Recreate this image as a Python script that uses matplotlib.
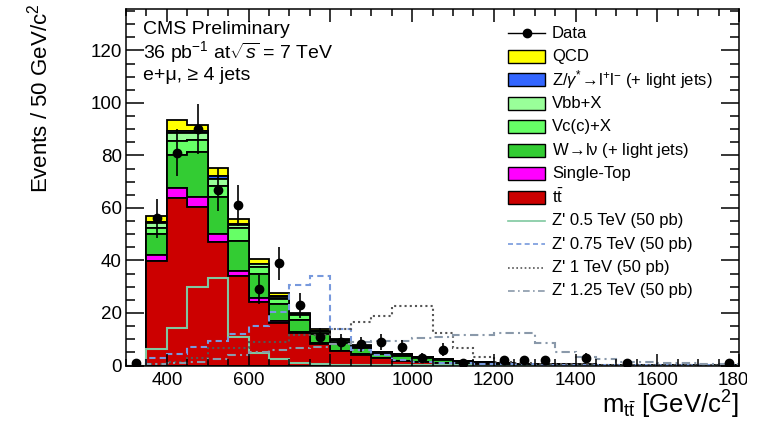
import numpy as np
import matplotlib
matplotlib.use("Agg")
import matplotlib.pyplot as plt
import matplotlib.patches as mpatches
from matplotlib.lines import Line2D
from matplotlib.ticker import MultipleLocator
from matplotlib.transforms import Bbox, TransformedBbox

plt.rcParams["font.family"] = ["Liberation Sans", "DejaVu Sans"]
plt.rcParams["mathtext.fontset"] = "custom"
plt.rcParams["mathtext.rm"] = "Liberation Sans"
plt.rcParams["mathtext.it"] = "Liberation Sans:italic"

# m_ttbar binning, 50 GeV bins
edges = np.arange(300, 1801, 50)
centers = 0.5 * (edges[:-1] + edges[1:])

# expected yields per bin (events / 50 GeV)
ttbar = [0, 39.8, 63.9, 60.5, 47.1, 34.2, 24.3, 16.3, 12.3, 8.2,
         5.5, 4.0, 2.7, 1.8, 1.4, 1.0, 0.7, 0.5, 0.35, 0.3,
         0.25, 0.2, 0.15, 0.12, 0.1, 0.08, 0.06, 0.05, 0.04, 0.03]
single_top = [0, 2.3, 3.8, 3.8, 3.0, 1.9, 1.3, 0.8, 0.3, 0.3,
              0.2, 0.2, 0.1, 0.1, 0.1, 0.1, 0.05, 0.05, 0.03, 0.02,
              0.02, 0.01, 0.01, 0.01, 0, 0, 0, 0, 0, 0]
w_light = [0, 7.9, 12.3, 16.9, 14.2, 11.4, 9.1, 6.2, 4.7, 3.4,
           3.0, 2.3, 1.6, 1.6, 1.3, 0.9, 0.55, 0.45, 0.35, 0.28,
           0.22, 0.2, 0.17, 0.15, 0.13, 0.11, 0.09, 0.08, 0.07, 0.06]
vc = [0, 2.5, 5.5, 4.7, 4.1, 4.7, 2.9, 2.0, 1.9, 0.7,
      0.6, 0.6, 0.4, 0.4, 0.3, 0.2, 0.2, 0.1, 0.07, 0.05,
      0.04, 0.03, 0.03, 0.02, 0.02, 0.02, 0.02, 0.01, 0.01, 0.01]
vbb = [0, 1.9, 2.9, 2.5, 2.7, 1.3, 0.9, 0.9, 0.4, 0.4,
       0.3, 0.3, 0.2, 0.2, 0.2, 0.2, 0.1, 0.1, 0.05, 0.04,
       0.03, 0.02, 0.02, 0.02, 0.02, 0.01, 0.01, 0.01, 0.01, 0.01]
zjets = [0, 0.2, 1.0, 0.8, 0.9, 0.3, 0.3, 0.2, 0.2, 0.1,
         0.1, 0.1, 0.1, 0.1, 0.05, 0, 0, 0, 0, 0,
         0, 0, 0, 0, 0, 0, 0, 0, 0, 0]
qcd = [0, 2.3, 4.0, 2.4, 3.1, 1.9, 1.9, 1.3, 0.3, 0.7,
       0.4, 0.3, 0.2, 0.2, 0.05, 0.1, 0.1, 0.1, 0.05, 0.01,
       0.04, 0.04, 0.02, 0.03, 0.03, 0.03, 0.02, 0.03, 0.02, 0.01]

# observed events
data = [1, 56, 81, 90, 67, 61, 29, 39, 23, 11,
        9, 8, 9, 7, 3, 6, 1, 0, 2, 2,
        2, 0, 3, 0, 1, 0, 0, 0, 0, 1]

# Z' signal templates (50 pb)
zp_500 = [0, 6.2, 14.2, 30.0, 33.4, 10.7, 4.6, 2.4, 0.8, 0.5,
          0.3, 0.2, 0.1, 0.1, 0.1, 0.05, 0.05, 0, 0, 0,
          0, 0, 0, 0, 0, 0, 0, 0, 0, 0]
zp_750 = [0, 2.7, 4.4, 7.2, 9.5, 11.9, 15.0, 20.5, 30.7, 34.2,
          13.8, 6.0, 4.0, 2.0, 1.5, 1.0, 0.8, 0.6, 0.5, 0.4,
          0.3, 0.3, 0.2, 0.2, 0.2, 0.1, 0.1, 0.1, 0.1, 0.1]
zp_1000 = [0, 0.5, 1.5, 3.0, 6.5, 6.5, 9.1, 9.1, 11.6, 11.6,
           14.0, 16.7, 18.9, 22.8, 22.8, 12.5, 6.5, 3.4, 1.5, 1.0,
           0.7, 0.5, 0.4, 0.3, 0.3, 0.2, 0.2, 0.1, 0.1, 0.1]
zp_1250 = [0, 0.5, 1.0, 1.5, 2.5, 4.0, 5.0, 6.0, 6.5, 7.0,
           8.0, 9.0, 9.4, 9.4, 10.5, 11.0, 11.6, 11.6, 12.3, 12.3,
           8.5, 5.0, 3.4, 2.5, 1.5, 1.2, 1.0, 0.8, 0.6, 0.5]

stack = [ttbar, single_top, w_light, vc, vbb, zjets, qcd]
stack_colors = ["#cc0000", "#ff00ff", "#33cc33", "#66ff66", "#99ff99", "#3366ff", "#ffff00"]
stack_labels = [r"$\mathrm{t\bar{t}}$", "Single-Top", r"W$\!\rightarrow\!$l$\mathrm{\nu}$ (+ light jets)",
                "Vc(c)+X", "Vbb+X", r"Z/$\gamma^{*}\!\rightarrow\!$l$^{+}$l$^{-}$ (+ light jets)", "QCD"]

zp_styles = [(zp_500, "#7fc8a0", "-", "Z' 0.5 TeV (50 pb)"),
             (zp_750, "#7799dd", (0, (3, 2)), "Z' 0.75 TeV (50 pb)"),
             (zp_1000, "#555555", (0, (1, 1.5)), "Z' 1 TeV (50 pb)"),
             (zp_1250, "#8a99aa", (0, (4, 2, 1, 2)), "Z' 1.25 TeV (50 pb)")]

W, H = 765, 421


def fx(px):
    return px / W


def fy(py):
    return 1 - py / H


fig = plt.figure(figsize=(W / 100, H / 100), dpi=100)
ax = fig.add_axes([fx(126), fy(365.5), (739 - 126) / W, (365.5 - 9) / H])

ax.hist([centers] * len(stack), bins=edges, weights=stack, stacked=True,
        histtype="stepfilled", color=stack_colors, edgecolor="black", linewidth=1.3)

for vals, col, ls, lab in zp_styles:
    ax.stairs(vals, edges, color=col, linestyle=ls, linewidth=1.5, baseline=0)

data = np.array(data, dtype=float)
has = data > 0
ax.errorbar(centers[has], data[has], yerr=np.sqrt(data[has]), fmt="o", color="black",
            markersize=6, elinewidth=1.2, capsize=0)

ax.set_xlim(300, 1800)
ax.set_ylim(0, 135.8)
ax.set_xticks(np.arange(400, 1801, 200))
ax.xaxis.set_minor_locator(MultipleLocator(50))
ax.yaxis.set_major_locator(MultipleLocator(20))
ax.yaxis.set_minor_locator(MultipleLocator(5))
ax.tick_params(which="both", direction="in", top=True, right=True, width=1.1, labelsize=13.5)
ax.tick_params(axis="x", which="major", length=9, pad=5)
ax.tick_params(axis="x", which="minor", length=4.8)
ax.tick_params(axis="y", which="major", length=13, pad=3)
ax.tick_params(axis="y", which="minor", length=6.8)
for s in ax.spines.values():
    s.set_linewidth(1.1)

# last x label runs past the frame edge and gets cut
last = ax.xaxis.get_major_ticks()[-1].label1
last.set_clip_box(TransformedBbox(Bbox([[0, 0], [fx(747), 1]]), fig.transFigure))
last.set_clip_on(True)

fig.text(fx(40), fy(4), r"Events / 50 GeV/c$^{2}$", rotation=90,
         ha="center", va="top", fontsize=16)
fig.text(fx(739), fy(414), r"m$_{\mathrm{t\bar{t}}}$ [GeV/c$^{2}$]",
         ha="right", va="baseline", fontsize=18.5)

fig.text(fx(143), fy(29), "CMS Preliminary", ha="left", va="center", fontsize=14)
fig.text(fx(143), fy(52), r"36 pb$^{-1}$ at$\sqrt{s}$ = 7 TeV", ha="left", va="center", fontsize=14)
fig.text(fx(143), fy(75), "e+\u03bc, \u2265 4 jets", ha="left", va="center", fontsize=14)

# legend, one row every ~23.5 px
row0, pitch = 33, 23.45
bx0, bx1, bh = 508, 545, 13
rows = [("data", "black", None, "Data")]
for col, lab in zip(stack_colors[::-1], stack_labels[::-1]):
    rows.append(("box", col, None, lab))
for vals, col, ls, lab in zp_styles:
    rows.append(("line", col, ls, lab))

for i, (kind, col, ls, lab) in enumerate(rows):
    yc = row0 + i * pitch
    if kind == "box":
        fig.add_artist(mpatches.Rectangle((fx(bx0), fy(yc + bh / 2)), (bx1 - bx0) / W, bh / H,
                                          transform=fig.transFigure, facecolor=col,
                                          edgecolor="black", linewidth=1.0))
    elif kind == "data":
        fig.add_artist(Line2D([fx(bx0), fx(bx1)], [fy(yc), fy(yc)], transform=fig.transFigure,
                              color="black", lw=1.0))
        fig.add_artist(Line2D([fx((bx0 + bx1) / 2)], [fy(yc)], transform=fig.transFigure,
                              color="black", marker="o", markersize=6, lw=0))
    else:
        fig.add_artist(Line2D([fx(bx0), fx(bx1)], [fy(yc), fy(yc)], transform=fig.transFigure,
                              color=col, linestyle=ls, lw=1.2))
    fig.text(fx(552), fy(yc), lab, ha="left", va="center", fontsize=12)

fig.savefig("out.png", dpi=100)
